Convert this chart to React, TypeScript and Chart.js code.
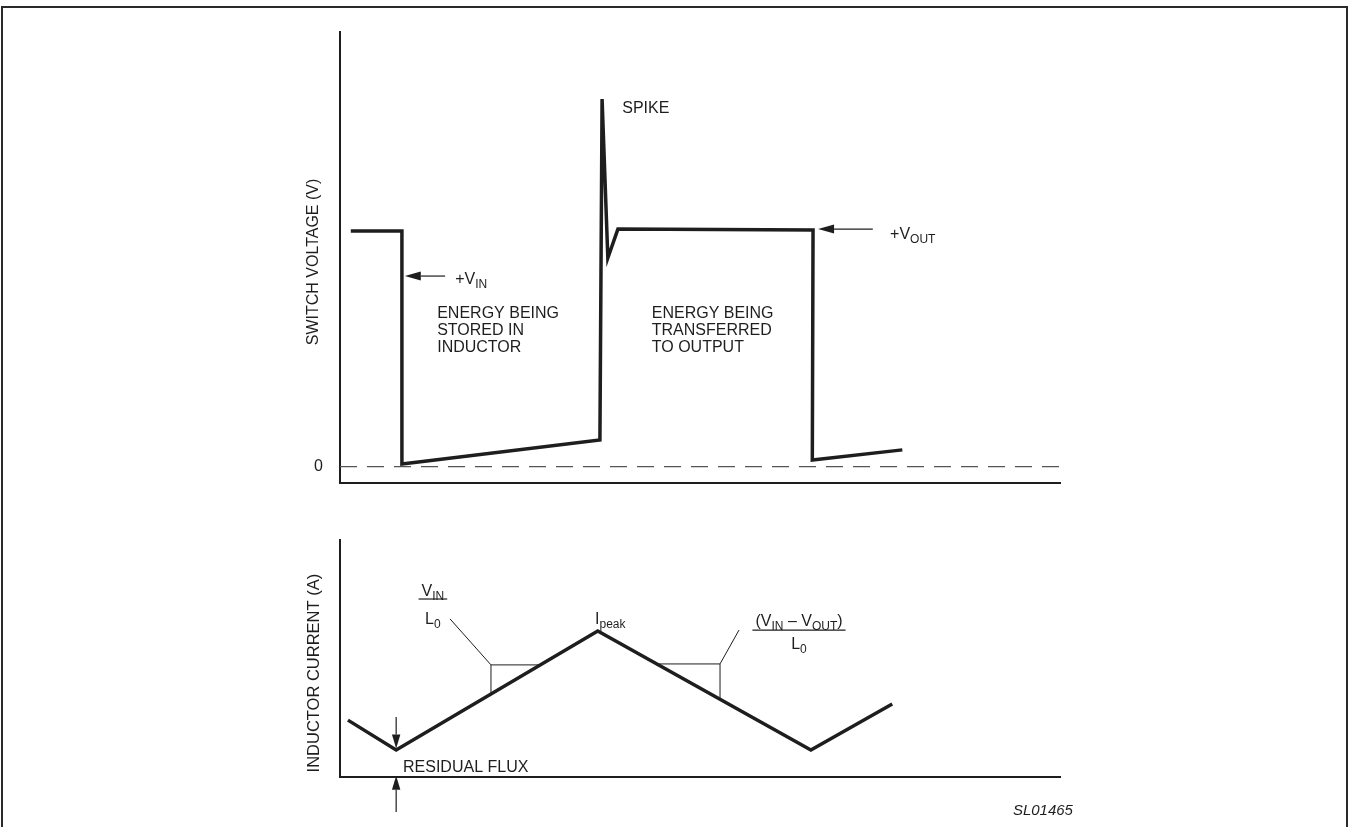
import React, { useEffect, useRef } from 'react';
import { Chart, registerables } from 'chart.js';

Chart.register(...registerables);

// ---------- data (time in arbitrary units 0..100) ----------
const switchTime = [1.5, 8.6, 8.6, 36.1, 36.4, 37.2, 38.6, 65.7, 65.6, 78.1];
const switchVoltage = [10.03, 10.03, 0.11, 1.13, 15.65, 8.88, 10.11, 10.07, 0.28, 0.71];
const zeroRefTime = [0, 100];
const zeroRefValue = [0, 0];
const currentTime = [1.1, 7.8, 35.8, 65.4, 76.7];
const inductorCurrent = [2.4, 1.14, 6.16, 1.14, 3.08];
const voltageTickValues = [0];
const voltageTickLabels = ['0'];

// ---------- annotation anchors (data units) ----------
const vinArrow = { from: 14.6, to: 9.0, y: 8.11 };
const vinLabel = { x: 16.0, y: 8.0 };
const storedText = { x: 13.5, y: 6.58, lines: ['ENERGY BEING', 'STORED IN', 'INDUCTOR'] };
const transferText = { x: 43.3, y: 6.58, lines: ['ENERGY BEING', 'TRANSFERRED', 'TO OUTPUT'] };
const spikeLabel = { x: 39.2, y: 15.3, text: 'SPIKE' };
const voutArrow = { from: 74.0, to: 66.4, y: 10.11 };
const voutLabel = { x: 76.4, y: 9.94 };

const riseSlope = { vx: 20.97, vy: 4.73, lx: 15.28, ly: 6.67, seg: 1 };
const fallSlope = { vx: 52.78, vy: 4.77, lx: 55.42, ly: 6.2, seg: 2 };
const riseFrac = { x: 12.9, num: 7.89, bar: 7.51, den: 6.71 };
const fallFrac = { x: 63.75, num: 6.62, bar: 6.2, den: 5.65 };
const peakLabel = { x: 35.42, y: 6.71 };
const residual = { x: 7.8, labelX: 8.75, labelY: 0.46, downFrom: 2.53, downTo: 1.2, upFrom: -1.48, upTo: 0.05 };
const figureId = { x: 101.8, y: -1.43, text: 'SL01465' };

const FONT = '"Liberation Sans", Arial, Helvetica, sans-serif';
const INK = '#1e1e1e';

type Run = { t: string; sub?: boolean };

function drawRuns(ctx: CanvasRenderingContext2D, runs: Run[], x: number, yc: number, align: 'left' | 'center' | 'right') {
  const fontOf = (r: Run) => `${r.sub ? 12 : 16}px ${FONT}`;
  const widths = runs.map((r) => {
    ctx.font = fontOf(r);
    return ctx.measureText(r.t).width;
  });
  const w = widths.reduce((a, b) => a + b, 0);
  let sx = align === 'center' ? x - w / 2 : align === 'right' ? x - w : x;
  const base = yc + 5.8;
  ctx.textAlign = 'left';
  ctx.textBaseline = 'alphabetic';
  runs.forEach((r, i) => {
    ctx.font = fontOf(r);
    ctx.fillText(r.t, sx, r.sub ? base + 4 : base);
    sx += widths[i];
  });
  return w;
}

function arrow(ctx: CanvasRenderingContext2D, x1: number, y1: number, x2: number, y2: number, head = 16, half = 4.5) {
  const a = Math.atan2(y2 - y1, x2 - x1);
  const bx = x2 - head * Math.cos(a);
  const by = y2 - head * Math.sin(a);
  ctx.lineWidth = 1.2;
  ctx.beginPath();
  ctx.moveTo(x1, y1);
  ctx.lineTo(bx, by);
  ctx.stroke();
  ctx.beginPath();
  ctx.moveTo(x2, y2);
  ctx.lineTo(bx + half * Math.sin(a), by - half * Math.cos(a));
  ctx.lineTo(bx - half * Math.sin(a), by + half * Math.cos(a));
  ctx.closePath();
  ctx.fill();
}

function line(ctx: CanvasRenderingContext2D, x1: number, y1: number, x2: number, y2: number, w = 1) {
  ctx.lineWidth = w;
  ctx.beginPath();
  ctx.moveTo(x1, y1);
  ctx.lineTo(x2, y2);
  ctx.stroke();
}

const topPlugin = {
  id: 'topNotes',
  afterDraw(chart: any) {
    const ctx: CanvasRenderingContext2D = chart.ctx;
    const X = (v: number) => chart.scales.x.getPixelForValue(v);
    const Y = (v: number) => chart.scales.y.getPixelForValue(v);
    ctx.save();
    ctx.fillStyle = INK;
    ctx.strokeStyle = INK;
    arrow(ctx, X(vinArrow.from), Y(vinArrow.y), X(vinArrow.to), Y(vinArrow.y));
    drawRuns(ctx, [{ t: '+V' }, { t: 'IN', sub: true }], X(vinLabel.x), Y(vinLabel.y), 'left');
    [storedText, transferText].forEach((b) => {
      b.lines.forEach((s, i) => drawRuns(ctx, [{ t: s }], X(b.x), Y(b.y) + i * 17, 'left'));
    });
    drawRuns(ctx, [{ t: spikeLabel.text }], X(spikeLabel.x), Y(spikeLabel.y), 'left');
    arrow(ctx, X(voutArrow.from), Y(voutArrow.y), X(voutArrow.to), Y(voutArrow.y));
    drawRuns(ctx, [{ t: '+V' }, { t: 'OUT', sub: true }], X(voutLabel.x), Y(voutLabel.y), 'left');
    ctx.restore();
  },
};

function lineYAt(x: number) {
  for (let i = 0; i < currentTime.length - 1; i++) {
    if (x >= currentTime[i] && x <= currentTime[i + 1]) {
      const t = (x - currentTime[i]) / (currentTime[i + 1] - currentTime[i]);
      return inductorCurrent[i] + t * (inductorCurrent[i + 1] - inductorCurrent[i]);
    }
  }
  return 0;
}
function lineXAt(y: number, seg: number) {
  const x0 = currentTime[seg], x1 = currentTime[seg + 1];
  const y0 = inductorCurrent[seg], y1 = inductorCurrent[seg + 1];
  return x0 + ((y - y0) / (y1 - y0)) * (x1 - x0);
}

const bottomPlugin = {
  id: 'bottomNotes',
  afterDraw(chart: any) {
    const ctx: CanvasRenderingContext2D = chart.ctx;
    const X = (v: number) => chart.scales.x.getPixelForValue(v);
    const Y = (v: number) => chart.scales.y.getPixelForValue(v);
    ctx.save();
    ctx.fillStyle = INK;
    ctx.strokeStyle = INK;
    [riseSlope, fallSlope].forEach((s) => {
      const vx = X(s.vx), vy = Y(s.vy);
      line(ctx, vx, vy, vx, Y(lineYAt(s.vx)));
      line(ctx, vx, vy, X(lineXAt(s.vy, s.seg)), vy);
      line(ctx, vx, vy, X(s.lx), Y(s.ly));
    });
    const fracs: [typeof riseFrac, Run[]][] = [
      [riseFrac, [{ t: 'V' }, { t: 'IN', sub: true }]],
      [fallFrac, [{ t: '(V' }, { t: 'IN', sub: true }, { t: ' \u2013 V' }, { t: 'OUT', sub: true }, { t: ')' }]],
    ];
    fracs.forEach(([f, runs]) => {
      const w = drawRuns(ctx, runs, X(f.x), Y(f.num), 'center');
      line(ctx, X(f.x) - w / 2 - 3, Y(f.bar), X(f.x) + w / 2 + 3, Y(f.bar), 1.2);
      drawRuns(ctx, [{ t: 'L' }, { t: '0', sub: true }], X(f.x), Y(f.den), 'center');
    });
    drawRuns(ctx, [{ t: 'I' }, { t: 'peak', sub: true }], X(peakLabel.x), Y(peakLabel.y), 'left');
    arrow(ctx, X(residual.x), Y(residual.downFrom), X(residual.x), Y(residual.downTo), 14, 4.2);
    arrow(ctx, X(residual.x), Y(residual.upFrom), X(residual.x), Y(residual.upTo), 14, 4.2);
    drawRuns(ctx, [{ t: 'RESIDUAL FLUX' }], X(residual.labelX), Y(residual.labelY), 'left');
    ctx.font = `italic 15px ${FONT}`;
    ctx.textAlign = 'right';
    ctx.textBaseline = 'middle';
    ctx.fillText(figureId.text, X(figureId.x), Y(figureId.y));
    ctx.restore();
  },
};

const axisFont = { family: FONT, size: 16 };
const border = { display: true, color: INK, width: 2 };

function xScale() {
  return {
    type: 'linear' as const,
    min: 0,
    max: 100,
    ticks: { display: false },
    grid: { display: false, drawTicks: false },
    border,
    afterFit: (s: any) => {
      s.height = 10;
      s.paddingLeft = 0;
      s.paddingRight = 0;
    },
  };
}

function yFit(s: any) {
  s.width = 50;
  s.paddingTop = 0;
  s.paddingBottom = 0;
}

export default function App() {
  const topRef = useRef<HTMLCanvasElement>(null);
  const botRef = useRef<HTMLCanvasElement>(null);

  useEffect(() => {
    const top = new Chart(topRef.current!, {
      type: 'scatter',
      data: {
        datasets: [
          {
            data: zeroRefTime.map((x, i) => ({ x, y: zeroRefValue[i] })),
            showLine: true,
            borderColor: '#555',
            borderWidth: 1.3,
            borderDash: [17, 10],
            pointRadius: 0,
          },
          {
            data: switchTime.map((x, i) => ({ x, y: switchVoltage[i] })),
            showLine: true,
            borderColor: INK,
            borderWidth: 3.5,
            borderJoinStyle: 'miter',
            pointRadius: 0,
          },
        ],
      },
      options: {
        responsive: false,
        animation: false,
        events: [],
        layout: { padding: { left: 290, top: 32, right: 289, bottom: 7 } },
        plugins: { legend: { display: false }, tooltip: { enabled: false } },
        scales: {
          x: xScale(),
          y: {
            type: 'linear',
            min: -0.7,
            max: 18.5,
            afterBuildTicks: (s: any) => {
              s.ticks = voltageTickValues.map((v) => ({ value: v }));
            },
            ticks: {
              callback: (v: any) => voltageTickLabels[voltageTickValues.indexOf(Number(v))] ?? '',
              font: axisFont,
              color: INK,
              padding: 17,
            },
            grid: { display: false, drawTicks: false },
            border,
            title: {
              display: true,
              text: 'SWITCH VOLTAGE (V)  ',
              font: axisFont,
              color: INK,
              padding: { top: 14.4, bottom: 0 },
            },
            afterFit: yFit,
          },
        },
      } as any,
      plugins: [topPlugin],
    });

    const bot = new Chart(botRef.current!, {
      type: 'scatter',
      data: {
        datasets: [
          {
            data: currentTime.map((x, i) => ({ x, y: inductorCurrent[i] })),
            showLine: true,
            borderColor: INK,
            borderWidth: 3.5,
            borderJoinStyle: 'miter',
            pointRadius: 0,
          },
        ],
      },
      options: {
        responsive: false,
        animation: false,
        events: [],
        layout: { padding: { left: 290, top: 40, right: 289, bottom: 40 } },
        plugins: { legend: { display: false }, tooltip: { enabled: false } },
        scales: {
          x: xScale(),
          y: {
            type: 'linear',
            min: 0,
            max: 10,
            ticks: { display: false },
            grid: { display: false, drawTicks: false },
            border,
            title: {
              display: true,
              text: ' INDUCTOR CURRENT (A)',
              align: 'start',
              font: { family: FONT, size: 16.5 },
              color: INK,
              padding: { top: 14.2, bottom: 0 },
            },
            afterFit: yFit,
          },
        },
      } as any,
      plugins: [bottomPlugin],
    });

    return () => {
      top.destroy();
      bot.destroy();
    };
  }, []);

  return (
    <div style={{ position: 'fixed', left: 0, top: 0, width: 1349, height: 827, background: '#fff', overflow: 'hidden' }}>
      <div
        style={{
          position: 'absolute',
          left: 1,
          top: 6,
          width: 1343,
          height: 830,
          borderTop: '2px solid #2a2a2a',
          borderLeft: '2px solid #2a2a2a',
          borderRight: '2px solid #2a2a2a',
        }}
      />
      <canvas ref={topRef} width={1349} height={500} style={{ position: 'absolute', left: 0, top: 0, width: 1349, height: 500 }} />
      <canvas ref={botRef} width={1349} height={327} style={{ position: 'absolute', left: 0, top: 500, width: 1349, height: 327 }} />
    </div>
  );
}
